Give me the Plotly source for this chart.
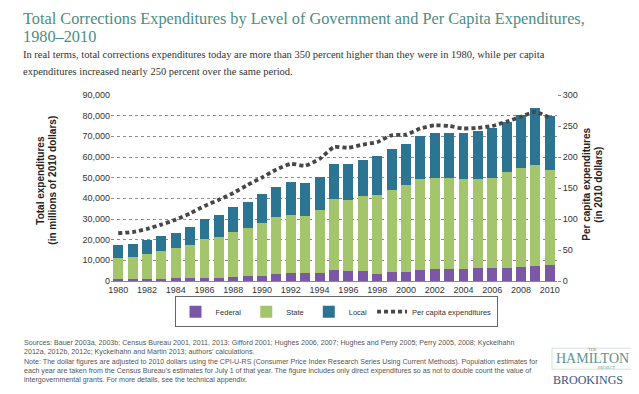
import plotly.graph_objects as go

years = list(range(1980, 2011))
federal = [1100, 1100, 1150, 1150, 1450, 1450, 1450, 1450, 1900, 2400, 2500, 3300, 3700, 3700, 3700, 5500,
           4900, 4700, 3400, 4200, 4200, 5200, 5700, 6000, 6000, 6400, 6400, 6500, 6900, 7300, 7700]
state = [10200, 10700, 12050, 13350, 14350, 15950, 18650, 19850, 22000, 23200, 25600, 27500, 28400, 27900,
         30800, 34200, 34500, 36400, 38200, 39800, 42100, 44000, 44300, 43700, 43200, 42800, 43600, 46200,
         47900, 48600, 46200]
local = [6000, 5900, 6500, 7200, 7600, 8500, 9900, 10700, 11900, 12800, 14200, 14900, 15800, 15800, 16000,
         16900, 17100, 17500, 18700, 20000, 20000, 20800, 21800, 22100, 22200, 23500, 24000, 24200, 25300,
         27900, 25900]
per_capita = [77, 79, 84, 91, 99, 109, 121, 131, 142, 155, 167, 180, 189, 186, 197, 216, 215, 220, 224, 235,
              236, 246, 251, 250, 246, 247, 250, 257, 265, 273, 263]
left_ticks = list(range(0, 90001, 10000))
right_ticks = list(range(0, 301, 50))
x_ticks = list(range(1980, 2011, 2))

W, H = 639, 394
L, R, T, B = 103, 549, 87.3, 273.3


def px(x):
    return (x - L) / (R - L)


def py(y):
    return (B - y) / (B - T)


C_FED = "#7a58a5"
C_STATE = "#a5c56c"
C_LOCAL = "#2c7592"
C_LINE = "#474747"

fig = go.Figure()
fig.add_trace(go.Bar(x=years, y=federal, name="Federal", marker=dict(color=C_FED, line=dict(width=0))))
fig.add_trace(go.Bar(x=years, y=state, name="State", marker=dict(color=C_STATE, line=dict(width=0))))
fig.add_trace(go.Bar(x=years, y=local, name="Local", marker=dict(color=C_LOCAL, line=dict(width=0))))
fig.add_trace(go.Scatter(x=years, y=per_capita, name="Per capita expenditures", yaxis="y2", mode="lines",
                         line=dict(color=C_LINE, width=3.8, dash="4px,3px", shape="spline", smoothing=0.5)))

tickfont = dict(family="Liberation Sans, Arial, sans-serif", size=9, color="#333333")

fig.update_layout(
    width=W, height=H,
    margin=dict(l=L, r=W - R, t=T, b=H - B, pad=0),
    paper_bgcolor="white", plot_bgcolor="white",
    barmode="stack", bargap=0.31,
    showlegend=True,
    legend=dict(orientation="h", x=px(328), y=py(304), xanchor="center", yanchor="middle",
                bordercolor="#666666", borderwidth=1, bgcolor="white", itemwidth=30,
                font=dict(family="Liberation Sans, Arial, sans-serif", size=7.5, color="#333333"),
                traceorder="normal", tracegroupgap=0),
    xaxis=dict(range=[1979.5, 2010.5], tickvals=x_ticks, ticktext=[str(v) for v in x_ticks],
               tickfont=tickfont, showgrid=False, showline=True, linecolor="#8a8a8a", linewidth=1,
               ticks="", zeroline=False),
    yaxis=dict(range=[0, 90000], tickvals=left_ticks, ticktext=[f"{v:,}" for v in left_ticks],
               tickfont=tickfont, showgrid=True, gridcolor="#8c8c8c", griddash="dot", gridwidth=1,
               zeroline=False, showline=False, ticks=""),
    yaxis2=dict(range=[0, 300], tickvals=right_ticks, overlaying="y", side="right", tickfont=tickfont,
                showgrid=False, zeroline=False, showline=False, ticks="outside", ticklen=3,
                tickcolor="#8c8c8c"),
)

ann = []
serif = "Liberation Serif, Times New Roman, serif"
sans = "Liberation Sans, Arial, sans-serif"
ann.append(dict(text="Total Corrections Expenditures by Level of Government and Per Capita Expenditures,",
                x=px(13), y=py(11), xanchor="left", yanchor="middle",
                font=dict(family=serif, size=16.3, color="#4b8c86")))
ann.append(dict(text="1980\u20132010", x=px(13), y=py(29), xanchor="left", yanchor="middle",
                font=dict(family=serif, size=16.3, color="#4b8c86")))
ann.append(dict(text="In real terms, total corrections expenditures today are more than 350 percent higher than they were in 1980, while per capita",
                x=px(13), y=py(47), xanchor="left", yanchor="middle",
                font=dict(family=serif, size=10.5, color="#333333")))
ann.append(dict(text="expenditures increased nearly 250 percent over the same period.",
                x=px(13), y=py(64), xanchor="left", yanchor="middle",
                font=dict(family=serif, size=10.5, color="#333333")))

# axis titles
ttl = dict(family=sans, size=10, color="#222222")
ann.append(dict(text="<b>Total expenditures</b>", x=px(33), y=py(173), textangle=-90,
                xanchor="center", yanchor="middle", font=ttl))
ann.append(dict(text="<b>(in millions of 2010 dollars)</b>", x=px(45), y=py(173), textangle=-90,
                xanchor="center", yanchor="middle", font=ttl))
ann.append(dict(text="<b>Per capita expenditures</b>", x=px(579), y=py(177), textangle=-90,
                xanchor="center", yanchor="middle", font=ttl))
ann.append(dict(text="<b>(in 2010 dollars)</b>", x=px(591), y=py(177), textangle=-90,
                xanchor="center", yanchor="middle", font=ttl))

footer = [
    "Sources: Bauer 2003a, 2003b; Census Bureau 2001, 2011, 2013; Gifford 2001; Hughes 2006, 2007; Hughes and Perry 2005; Perry 2005, 2008; Kyckelhahn",
    "2012a, 2012b, 2012c; Kyckelhahn and Martin 2013; authors\u2019 calculations.",
    "Note: The dollar figures are adjusted to 2010 dollars using the CPI-U-RS (Consumer Price Index Research Series Using Current Methods). Population estimates for",
    "each year are taken from the Census Bureau\u2019s estimates for July 1 of that year. The figure includes only direct expenditures so as not to double count the value of",
    "intergovernmental grants. For more details, see the technical appendix.",
]
for i, line in enumerate(footer):
    ann.append(dict(text=line, x=px(14), y=py(335 + i * 9.4), xanchor="left", yanchor="middle",
                    font=dict(family=sans, size=7.1, color="#555555")))

# logo
ann.append(dict(text="THE", x=px(584), y=py(341.5), xanchor="center", yanchor="middle",
                font=dict(family=serif, size=4.5, color="#5f938d")))
ann.append(dict(text="HAMILTON", x=px(584), y=py(350.5), xanchor="center", yanchor="middle",
                font=dict(family=serif, size=14, color="#5f938d")))
ann.append(dict(text="PROJECT", x=px(598), y=py(360), xanchor="center", yanchor="middle",
                font=dict(family=serif, size=4, color="#5f938d")))
ann.append(dict(text="BROOKINGS", x=px(580), y=py(372), xanchor="center", yanchor="middle",
                font=dict(family=serif, size=12, color="#355583")))

for a in ann:
    a.update(xref="paper", yref="paper", showarrow=False)
fig.update_layout(annotations=ann)

fig.add_shape(type="rect", xref="paper", yref="paper", x0=px(544), x1=px(624), y0=py(340.5), y1=py(361.5),
              line=dict(color="#c9d9d4", width=0.8), fillcolor="rgba(0,0,0,0)", layer="below")

fig.write_html("out.html")
